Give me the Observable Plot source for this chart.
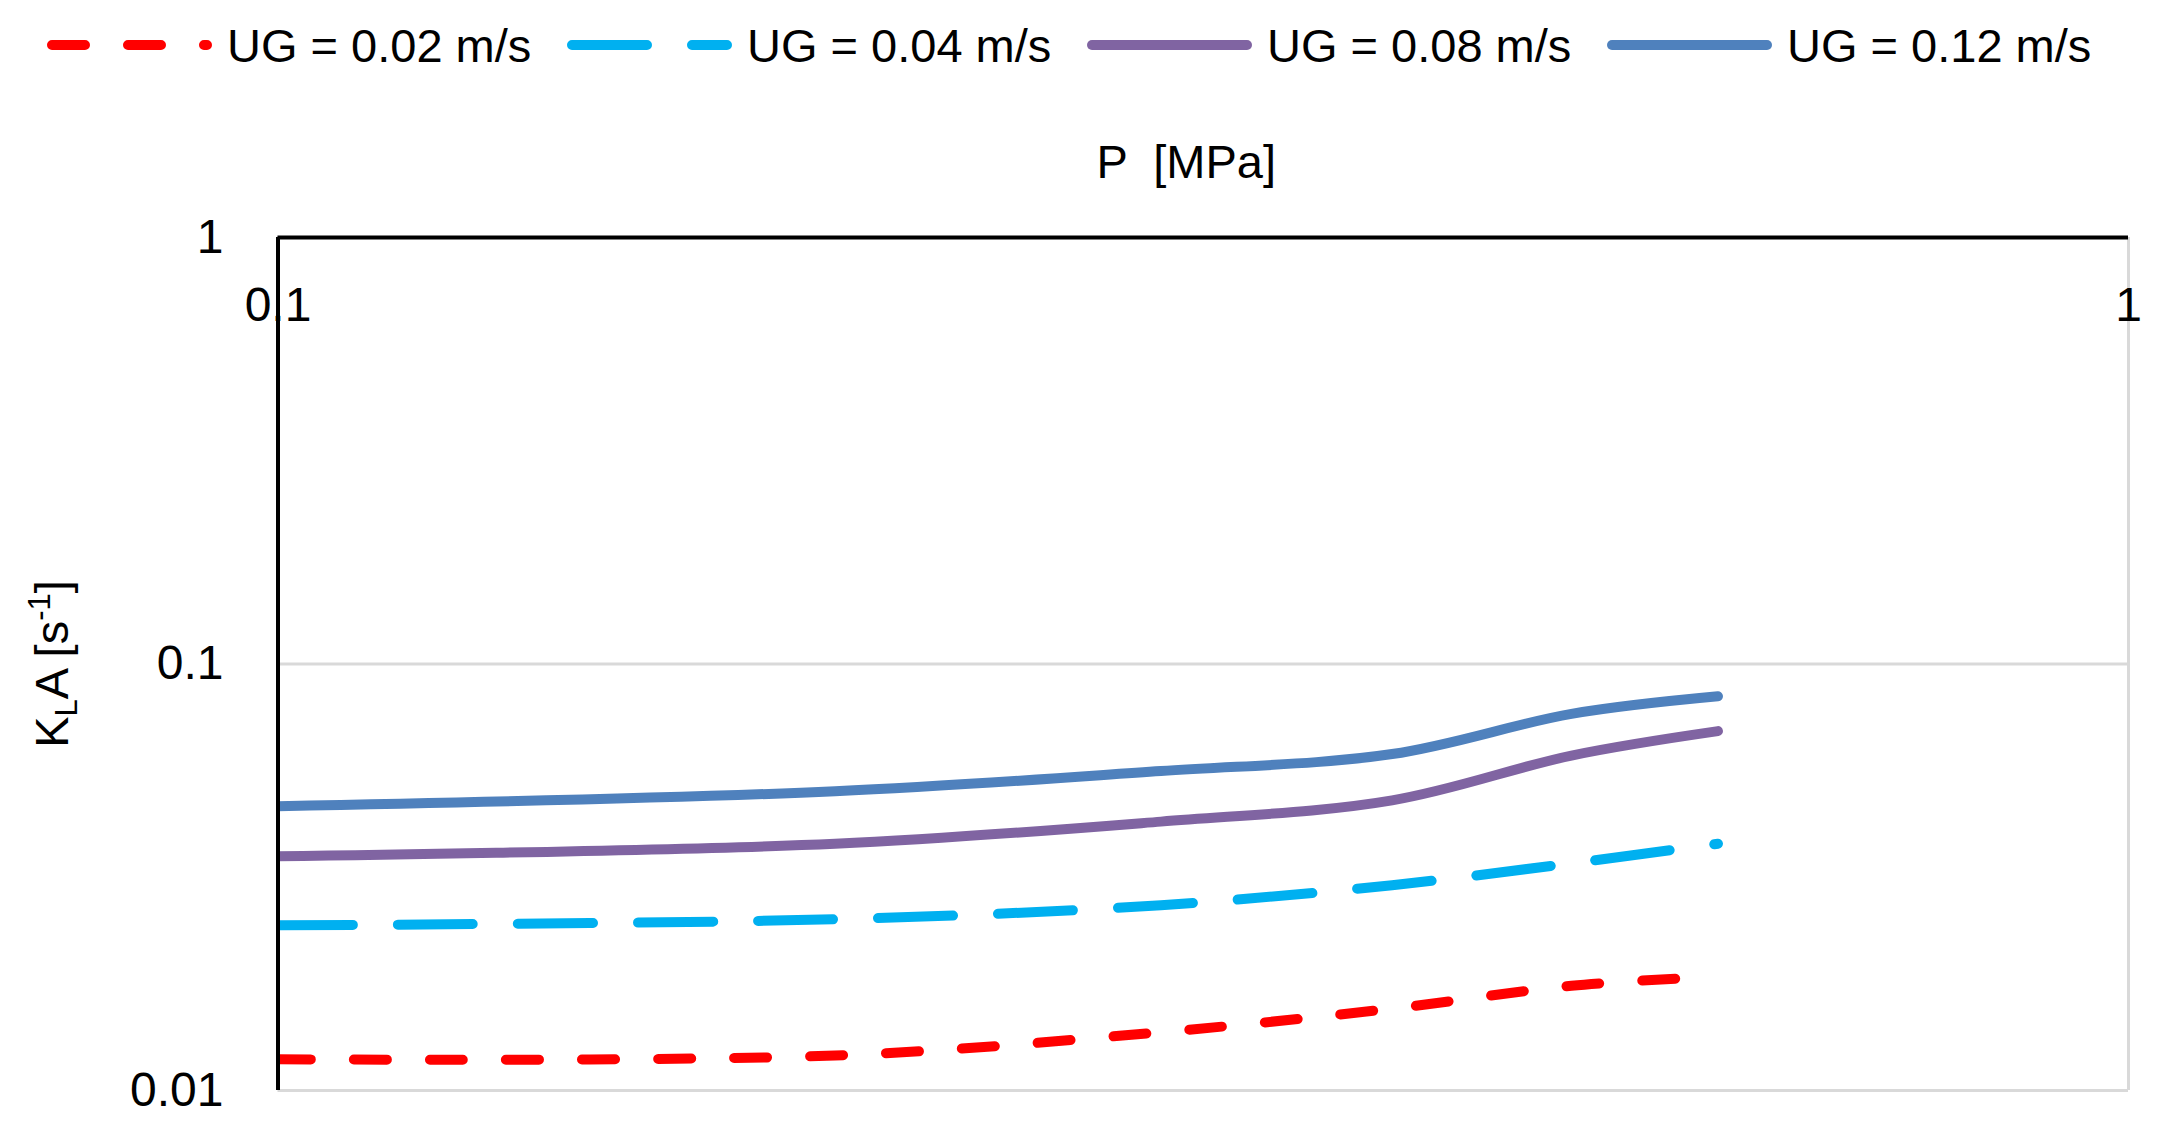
<!DOCTYPE html>
<html>
<head>
<meta charset="utf-8">
<script src="https://cdn.jsdelivr.net/npm/d3@7"></script>
<script src="https://cdn.jsdelivr.net/npm/@observablehq/plot@0.6"></script>
<style>
  html, body { margin: 0; padding: 0; background: #fff; }
  #wrap { width: 2176px; }
  svg { display: block; }
</style>
</head>
<body>
<div id="wrap"></div>
<script>
// ---- data ----
const P = [0.1, 0.2, 0.3, 0.4, 0.5, 0.6];            // pressure [MPa]
const kla002 = [0.01184, 0.01208, 0.01370, 0.01556, 0.0176, 0.0185];
const kla004 = [0.0244, 0.0252, 0.0272, 0.0303, 0.0341, 0.0379];
const kla008 = [0.0354, 0.0379, 0.0427, 0.0479, 0.0610, 0.0696];
const kla012 = [0.0464, 0.0503, 0.0561, 0.0615, 0.0764, 0.0840];

const seriesNames  = ["UG = 0.02 m/s", "UG = 0.04 m/s", "UG = 0.08 m/s", "UG = 0.12 m/s"];
const seriesValues = [kla002, kla004, kla008, kla012];

const xTicks = [0.1, 1];
const xTickLabels = ["0.1", "1"];
const yTicks = [0.01, 0.1, 1];
const yTickLabels = ["0.01", "0.1", "1"];

const xTitle = "P  [MPa]";

// ---- styles ----
const seriesColors = ["#FF0000", "#00B0F0", "#8064A2", "#4F81BD"];
const seriesDash   = ["33 43", "75 45", null, null];
const FONT = "'Liberation Sans', Arial, sans-serif";

const series = seriesNames.map((name, i) => ({
  name,
  color: seriesColors[i],
  dash: seriesDash[i],
  rows: P.map((p, j) => ({P: p, K: seriesValues[i][j], series: name}))
}));

// ---- legend (above the plot) ----
const wrap = d3.select("#wrap");
const leg = wrap.append("svg").attr("width", 2176).attr("height", 90);
const item = leg.selectAll("g").data(series).join("g")
  .attr("transform", (d, i) => `translate(${47 + i * 520},0)`);
item.append("line")
  .attr("x1", 5).attr("x2", 160).attr("y1", 45).attr("y2", 45)
  .attr("stroke", d => d.color).attr("stroke-width", 10)
  .attr("stroke-linecap", "round")
  .attr("stroke-dasharray", d => d.dash);
item.append("text")
  .attr("x", 180).attr("y", 62)
  .attr("font-family", FONT).attr("font-size", 47).attr("fill", "#000")
  .text(d => d.name);

// ---- plot ----
const lineMarks = series.map(s => Plot.line(s.rows, {
  x: "P", y: "K",
  stroke: s.color, strokeWidth: 10,
  strokeDasharray: s.dash || undefined,
  strokeLinecap: "round", strokeLinejoin: "round",
  curve: "catmull-rom", clip: true
}));

const chart = Plot.plot({
  width: 2176,
  height: 1042,
  marginTop: 147,
  marginBottom: 42,
  marginLeft: 277.5,
  marginRight: 48,
  style: {fontFamily: FONT, background: "#fff", color: "#000"},
  x: {type: "log", domain: [0.1, 1], axis: null},
  y: {type: "log", domain: [0.01, 1], axis: null},
  marks: [
    Plot.ruleY(yTicks, {stroke: "#d9d9d9", strokeWidth: 3}),
    Plot.ruleX([1], {stroke: "#d9d9d9", strokeWidth: 3}),
    ...lineMarks,
    Plot.ruleY([1], {stroke: "#000", strokeWidth: 4}),
    Plot.ruleX([0.1], {stroke: "#000", strokeWidth: 4}),
    Plot.text(xTicks, {
      x: d => d, text: (d, i) => xTickLabels[i],
      frameAnchor: "top", dy: 68.5, lineAnchor: "middle",
      fontSize: 48, fill: "#000"
    }),
    Plot.text(yTicks, {
      y: d => d, text: (d, i) => yTickLabels[i],
      frameAnchor: "left", dx: -54.5, textAnchor: "end", lineAnchor: "middle",
      fontSize: 48, fill: "#000"
    }),
    Plot.text([xTitle], {
      frameAnchor: "top", dx: -17, dy: -75, lineAnchor: "middle",
      fontSize: 47, fill: "#000"
    })
  ]
});

// y-axis title with subscript / superscript
const yt = d3.select(chart).append("text")
  .attr("transform", "translate(68,574) rotate(-90)")
  .attr("text-anchor", "middle")
  .attr("font-family", FONT).attr("font-size", 47).attr("fill", "#000");
yt.append("tspan").text("K");
yt.append("tspan").attr("font-size", 31).attr("dy", 9).text("L");
yt.append("tspan").attr("dy", -9).text("A [s");
yt.append("tspan").attr("font-size", 31).attr("dy", -18).text("-1");
yt.append("tspan").attr("dy", 18).text("]");

document.getElementById("wrap").appendChild(chart);
</script>
</body>
</html>
